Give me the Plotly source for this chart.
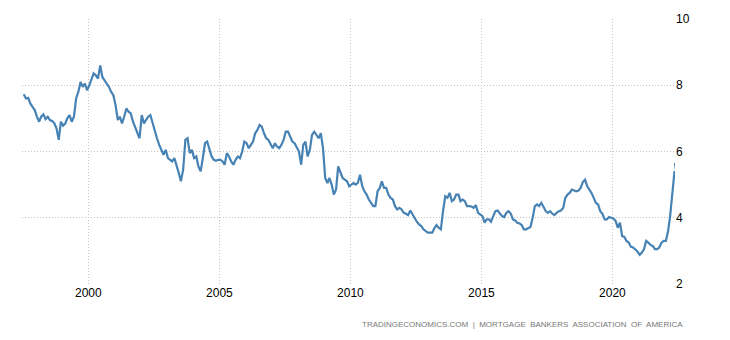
import pandas as pd
import plotly.graph_objects as go

# Monthly readings of the MBA 30-year fixed mortgage rate (%), Jun 1997 .. May 2022
start_month = "1997-06-15"
rates = [
    # 1997 Jun-Dec
    7.73, 7.60, 7.62, 7.45, 7.35, 7.25, 7.05,
    # 1998
    6.90, 7.05, 7.12, 6.98, 7.05, 6.95, 6.92, 6.85, 6.70, 6.35, 6.90, 6.78,
    # 1999
    6.85, 7.00, 7.10, 6.90, 7.05, 7.60, 7.80, 8.10, 7.95, 8.05, 7.85, 8.00,
    # 2000
    8.20, 8.36, 8.30, 8.20, 8.60, 8.25, 8.15, 8.05, 7.95, 7.80, 7.70, 7.40,
    # 2001
    6.95, 7.05, 6.85, 7.05, 7.30, 7.20, 7.15, 6.90, 6.75, 6.60, 6.40, 7.10,
    # 2002
    6.85, 6.95, 7.05, 7.10, 6.85, 6.60, 6.40, 6.20, 6.05, 5.90, 6.05, 5.80,
    # 2003
    5.75, 5.70, 5.80, 5.60, 5.35, 5.10, 5.45, 6.35, 6.40, 5.95, 6.05, 5.80,
    # 2004
    5.85, 5.55, 5.40, 5.80, 6.25, 6.30, 6.05, 5.85, 5.75, 5.72, 5.75, 5.75,
    # 2005
    5.70, 5.60, 5.95, 5.85, 5.70, 5.60, 5.75, 5.85, 5.80, 6.00, 6.30, 6.25,
    # 2006
    6.10, 6.20, 6.30, 6.55, 6.65, 6.80, 6.75, 6.55, 6.40, 6.35, 6.20, 6.10,
    # 2007
    6.25, 6.15, 6.10, 6.20, 6.35, 6.60, 6.60, 6.45, 6.30, 6.25, 6.10, 6.00,
    # 2008
    5.60, 6.20, 6.30, 5.85, 6.05, 6.50, 6.60, 6.50, 6.40, 6.55, 6.10, 5.20,
    # 2009
    5.05, 5.20, 5.00, 4.70, 4.85, 5.55, 5.40, 5.20, 5.15, 5.10, 4.95, 5.00,
    # 2010
    5.05, 5.00, 5.05, 5.30, 4.95, 4.80, 4.70, 4.55, 4.45, 4.35, 4.35, 4.80,
    # 2011
    4.90, 5.10, 4.90, 4.90, 4.70, 4.60, 4.55, 4.35, 4.25, 4.30, 4.25, 4.15,
    # 2012
    4.12, 4.08, 4.22, 4.10, 3.98, 3.88, 3.80, 3.75, 3.65, 3.60, 3.55, 3.55,
    # 2013
    3.55, 3.68, 3.78, 3.70, 3.65, 4.20, 4.65, 4.60, 4.75, 4.50, 4.55, 4.70,
    # 2014
    4.70, 4.50, 4.55, 4.50, 4.35, 4.35, 4.34, 4.30, 4.38, 4.15, 4.10, 4.05,
    # 2015
    3.85, 3.95, 3.95, 3.88, 4.05, 4.20, 4.22, 4.12, 4.05, 4.02, 4.15, 4.20,
    # 2016
    4.12, 3.95, 3.92, 3.85, 3.83, 3.78, 3.65, 3.65, 3.68, 3.72, 4.00, 4.35,
    # 2017
    4.40, 4.35, 4.45, 4.30, 4.20, 4.15, 4.20, 4.12, 4.08, 4.15, 4.20, 4.22,
    # 2018
    4.30, 4.60, 4.70, 4.75, 4.85, 4.82, 4.80, 4.82, 4.90, 5.08, 5.15, 4.95,
    # 2019
    4.85, 4.75, 4.60, 4.45, 4.40, 4.20, 4.12, 3.95, 3.95, 4.02, 4.00, 3.98,
    # 2020
    3.90, 3.70, 3.85, 3.45, 3.42, 3.30, 3.25, 3.12, 3.10, 3.05, 2.98, 2.88,
    # 2021
    2.95, 3.05, 3.30, 3.25, 3.18, 3.15, 3.05, 3.05, 3.10, 3.25, 3.30, 3.30,
    # 2022 Jan-May
    3.60, 4.05, 4.70, 5.40, 5.30,
]
last_date = "2022-05-21"
last_rate = 5.65

x_range = ["1997-06-21", "2022-05-22"]
year_ticks = ["2000-01-01", "2005-01-01", "2010-01-01", "2015-01-01", "2020-01-01"]
year_labels = ["2000", "2005", "2010", "2015", "2020"]
y_ticks = [2, 4, 6, 8, 10]
source_text = "TRADINGECONOMICS.COM  |  MORTGAGE  BANKERS  ASSOCIATION  OF  AMERICA"

dates = list(pd.date_range(start_month, periods=len(rates), freq="MS") + pd.Timedelta(days=14))
dates.append(pd.Timestamp(last_date))
values = rates + [last_rate]

fig = go.Figure()
fig.add_trace(go.Scatter(
    x=dates, y=values, mode="lines",
    line=dict(color="#4682B4", width=2.2),
    hoverinfo="skip", showlegend=False, cliponaxis=False,
))

grid = dict(showgrid=True, gridcolor="#c4c4c4", griddash="1px,2px", gridwidth=1,
            zeroline=False, showline=False, ticks="", automargin=False)

# page body has an 8px default margin, so the figure is sized to fit the window
fig.update_layout(
    width=714, height=324,
    margin=dict(l=14, r=47, t=11, b=48),
    paper_bgcolor="white", plot_bgcolor="white",
    font=dict(family="Liberation Sans, Arial, sans-serif", size=12, color="#000000"),
    xaxis=dict(range=x_range, tickvals=year_ticks, ticktext=year_labels, **grid),
    yaxis=dict(range=[2, 10], tickvals=y_ticks, side="right", **grid),
    annotations=[dict(
        text=source_text, xref="paper", yref="paper",
        x=1.0153, y=-0.151, xanchor="right", yanchor="middle", showarrow=False,
        font=dict(family="Liberation Sans, Arial, sans-serif", size=8, color="#777777"),
    )],
)

fig.write_html("out.html")
